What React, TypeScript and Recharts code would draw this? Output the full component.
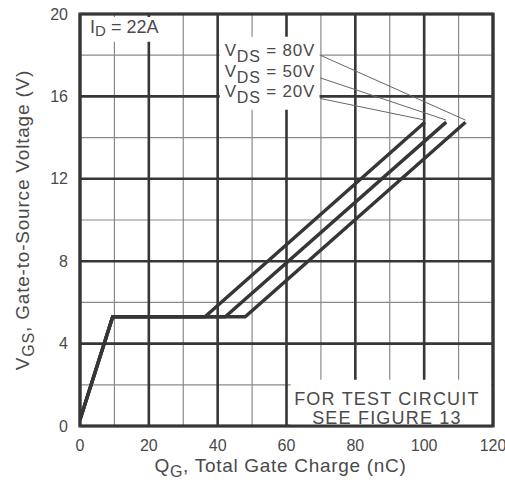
import React from 'react';
import { LineChart, Line, XAxis, YAxis, ReferenceLine, ReferenceArea } from 'recharts';

// gate charge Qg (nC) vs gate-source voltage Vgs (V), Id = 22A
const qMajor = [0, 20, 40, 60, 80, 100, 120];
const qMinor = [10, 30, 50, 70, 90, 110];
const vMajor = [0, 4, 8, 12, 16, 20];
const vMinor = [2, 6, 10, 14, 18];

const vds20 = [
    { q: 0, v: 0.3 },
    { q: 9.5, v: 5.3 },
    { q: 36.3, v: 5.3 },
    { q: 100.2, v: 14.75 },
];
const vds50 = [
    { q: 0, v: 0.3 },
    { q: 9.5, v: 5.3 },
    { q: 42.2, v: 5.3 },
    { q: 106.4, v: 14.75 },
];
const vds80 = [
    { q: 0, v: 0.3 },
    { q: 9.5, v: 5.3 },
    { q: 48.0, v: 5.3 },
    { q: 112.0, v: 14.75 },
];

const seriesLabels = ['80V', '50V', '20V'];
const calloutFrom = [
    { x: 69.8, y: 18.0 },
    { x: 69.8, y: 16.9 },
    { x: 69.8, y: 15.9 },
];
const calloutTo = [
    { x: 112.0, y: 14.85 },
    { x: 106.4, y: 14.85 },
    { x: 100.2, y: 14.85 },
];

const FONT = '"Liberation Sans", Arial, Helvetica, sans-serif';
const INK = '#363636';
const TEXT = '#4a4a4a';

const XTitle = (props: any) => {
    const vb = props.viewBox || {};
    const cx = vb.x + vb.width / 2 - 6;
    return (
        <text x={cx} y={472} textAnchor="middle" fill={TEXT} fontSize={19} letterSpacing={0.7} fontFamily={FONT}>
            Q
            <tspan fontSize={16} dy={5}>G</tspan>
            <tspan dy={-5}>, Total Gate Charge (nC)</tspan>
        </text>
    );
};

const YTitle = (props: any) => {
    const vb = props.viewBox || {};
    const cy = vb.y + vb.height / 2;
    return (
        <text
            x={29}
            y={cy}
            transform={`rotate(-90, 29, ${cy})`}
            textAnchor="middle"
            fill={TEXT}
            fontSize={19}
            letterSpacing={0.8}
            fontFamily={FONT}
        >
            V
            <tspan fontSize={16} dy={5}>GS</tspan>
            <tspan dy={-5}>, Gate-to-Source Voltage (V)</tspan>
        </text>
    );
};

const IdText = (props: any) => {
    const vb = props.viewBox || {};
    return (
        <text x={vb.x + 8} y={33} fill={TEXT} fontSize={18} fontFamily={FONT}>
            I
            <tspan fontSize={15} dy={3}>D</tspan>
            <tspan dy={-3}> = 22A</tspan>
        </text>
    );
};

const VdsText = (props: any) => {
    const vb = props.viewBox || {};
    return (
        <g>
            {seriesLabels.map((s, i) => (
                <text key={s} x={vb.x + 5} y={56 + i * 20.5} fill={TEXT} fontSize={17} letterSpacing={0.8} fontFamily={FONT}>
                    V
                    <tspan fontSize={16} dy={6}>DS</tspan>
                    <tspan dy={-6}>{` = ${s}`}</tspan>
                </text>
            ))}
        </g>
    );
};

const TestText = (props: any) => {
    const vb = props.viewBox || {};
    const cx = vb.x + vb.width / 2 - 4;
    return (
        <g>
            <text x={cx} y={405} textAnchor="middle" fill={TEXT} fontSize={18} letterSpacing={1.2} fontFamily={FONT}>
                FOR TEST CIRCUIT
            </text>
            <text x={cx} y={424} textAnchor="middle" fill={TEXT} fontSize={18} letterSpacing={1.2} fontFamily={FONT}>
                SEE FIGURE 13
            </text>
        </g>
    );
};

export default function App() {
    return (
        <div style={{ position: 'absolute', left: 0, top: 0, width: 505, height: 490, background: '#fff' }}>
            <LineChart width={505} height={490} margin={{ top: 14, right: 12, bottom: 0, left: 0 }}>
                <XAxis
                    type="number"
                    dataKey="q"
                    domain={[0, 120]}
                    ticks={qMajor}
                    allowDataOverflow
                    axisLine={false}
                    tickLine={false}
                    tickSize={0}
                    tickMargin={14}
                    height={64}
                    tick={{ fill: TEXT, fontSize: 16, fontFamily: FONT }}
                    label={{ content: XTitle }}
                />
                <YAxis
                    type="number"
                    domain={[0, 20]}
                    ticks={vMajor}
                    allowDataOverflow
                    axisLine={false}
                    tickLine={false}
                    tickSize={0}
                    tickMargin={12}
                    width={80}
                    tick={{ fill: TEXT, fontSize: 16, fontFamily: FONT }}
                    label={{ content: YTitle }}
                />

                {qMinor.map((q) => (
                    <ReferenceLine key={`qm${q}`} x={q} stroke="#8a8a8a" strokeWidth={1.2} zIndex={100} />
                ))}
                {vMinor.map((v) => (
                    <ReferenceLine key={`vm${v}`} y={v} stroke="#8a8a8a" strokeWidth={1.2} zIndex={100} />
                ))}
                {qMajor.map((q) => (
                    <ReferenceLine key={`qM${q}`} x={q} stroke={INK} strokeWidth={2.6} zIndex={110} />
                ))}
                {vMajor.map((v) => (
                    <ReferenceLine key={`vM${v}`} y={v} stroke={INK} strokeWidth={2.6} zIndex={110} />
                ))}

                <ReferenceArea x1={0.6} x2={21.6} y1={18.65} y2={19.85} fill="#fff" fillOpacity={1} stroke="none" zIndex={150} label={{ content: IdText }} />
                <ReferenceArea x1={40.6} x2={69.6} y1={15.35} y2={18.9} fill="#fff" fillOpacity={1} stroke="none" zIndex={150} label={{ content: VdsText }} />
                <ReferenceArea x1={61.2} x2={119.5} y1={0} y2={2.25} fill="#fff" fillOpacity={1} stroke="none" zIndex={150} label={{ content: TestText }} />

                {seriesLabels.map((s, i) => (
                    <ReferenceLine
                        key={`c${s}`}
                        segment={[calloutFrom[i], calloutTo[i]]}
                        stroke="#666"
                        strokeWidth={1}
                        zIndex={160}
                    />
                ))}

                <ReferenceArea x1={0} x2={120} y1={0} y2={20} fill="none" stroke={INK} strokeWidth={3.2} zIndex={450} />

                <Line data={vds20} dataKey="v" type="linear" stroke={INK} strokeWidth={3.4} dot={false} isAnimationActive={false} />
                <Line data={vds50} dataKey="v" type="linear" stroke={INK} strokeWidth={3.4} dot={false} isAnimationActive={false} />
                <Line data={vds80} dataKey="v" type="linear" stroke={INK} strokeWidth={3.4} dot={false} isAnimationActive={false} />
            </LineChart>
        </div>
    );
}
